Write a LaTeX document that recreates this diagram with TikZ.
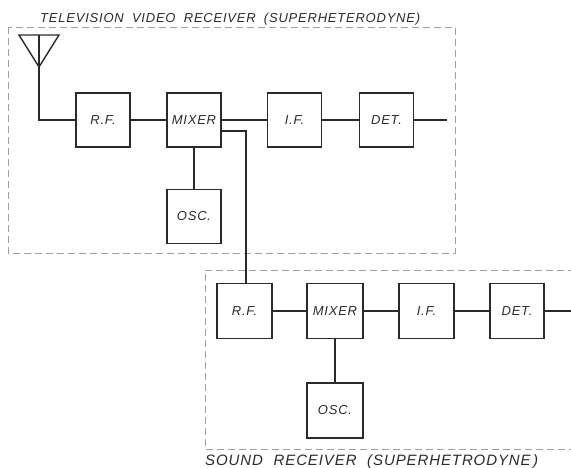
\documentclass[tikz,border=0pt]{standalone}
\usepackage{fontspec}
\setmainfont{Liberation Sans}
\begin{document}
\begin{tikzpicture}[x=1pt,y=-1pt,
  blk/.style={draw=ink,line width=1.4pt,rectangle,inner sep=0pt,minimum width=54pt,minimum height=54pt,font=\fontsize{13}{14}\selectfont\itshape\addfontfeature{LetterSpace=6},text=ink},
  wire/.style={draw=ink,line width=1.4pt},
  frame/.style={draw=gray!75,line width=0.8pt,dash pattern=on 7pt off 4pt},
  ttl/.style={text=ink,anchor=base west,inner sep=0pt}]
\definecolor{ink}{HTML}{2A2A2A}
\useasboundingbox (0,0) rectangle (571,467);
% frames
\draw[frame] (8,27) rectangle (455,253);
\draw[frame] (575,270) -- (205,270) -- (205,449) -- (575,449);
% titles
\node[ttl,font=\fontsize{13}{14}\selectfont\itshape\addfontfeature{LetterSpace=6}] (t1) at (40,22)
  {\makebox[380pt][s]{TELEVISION VIDEO RECEIVER (SUPERHETERODYNE)}};
\node[ttl,font=\fontsize{15}{16}\selectfont\itshape\addfontfeature{LetterSpace=6}] (t2) at (205,465)
  {\makebox[333pt][s]{SOUND RECEIVER (SUPERHETRODYNE\,)}};
% upper receiver
\node[blk] (rf1) at (103,120) {R.F.};
\node[blk] (mix1) at (194,120) {MIXER};
\node[blk] (osc1) at (194,216.5) {OSC.};
\node[blk] (if1) at (294.5,120) {I.F.};
\node[blk] (det1) at (386.5,120) {DET.};
% antenna
\coordinate (al) at (19,35);
\coordinate (ar) at (59,35);
\coordinate (at) at (39,35);
\coordinate (ap) at (39,67);
\draw[wire,line join=miter] (al) -- (ar) -- (ap) -- cycle;
\draw[wire] (at) -- (ap);
\draw[wire] (ap) |- (rf1.west);
\draw[wire] (rf1) -- (mix1);
\draw[wire] (mix1) -- (if1);
\draw[wire] (if1) -- (det1);
\draw[wire] (mix1) -- (osc1);
\coordinate (o1) at (447,120);
\draw[wire] (det1) -- (o1);
% lower receiver
\node[blk,minimum width=55pt,minimum height=55pt] (rf2) at (244.5,311) {R.F.};
\node[blk,minimum width=56pt,minimum height=55pt] (mix2) at (335,311) {MIXER};
\node[blk,minimum width=56pt,minimum height=55pt] (osc2) at (335,410.5) {OSC.};
\node[blk,minimum width=55pt,minimum height=55pt] (if2) at (426.5,311) {I.F.};
\node[blk,minimum width=54pt,minimum height=55pt] (det2) at (517,311) {DET.};
\draw[wire] (rf2) -- (mix2);
\draw[wire] (mix2) -- (if2);
\draw[wire] (if2) -- (det2);
\draw[wire] (mix2) -- (osc2);
\coordinate (o2) at (575,311);
\draw[wire] (det2) -- (o2);
% coupling from video mixer to sound RF
\coordinate (c1) at (246,131);
\draw[wire] (mix1.east |- c1) -- (c1) -- (c1 |- rf2.north);
\end{tikzpicture}
\end{document}
